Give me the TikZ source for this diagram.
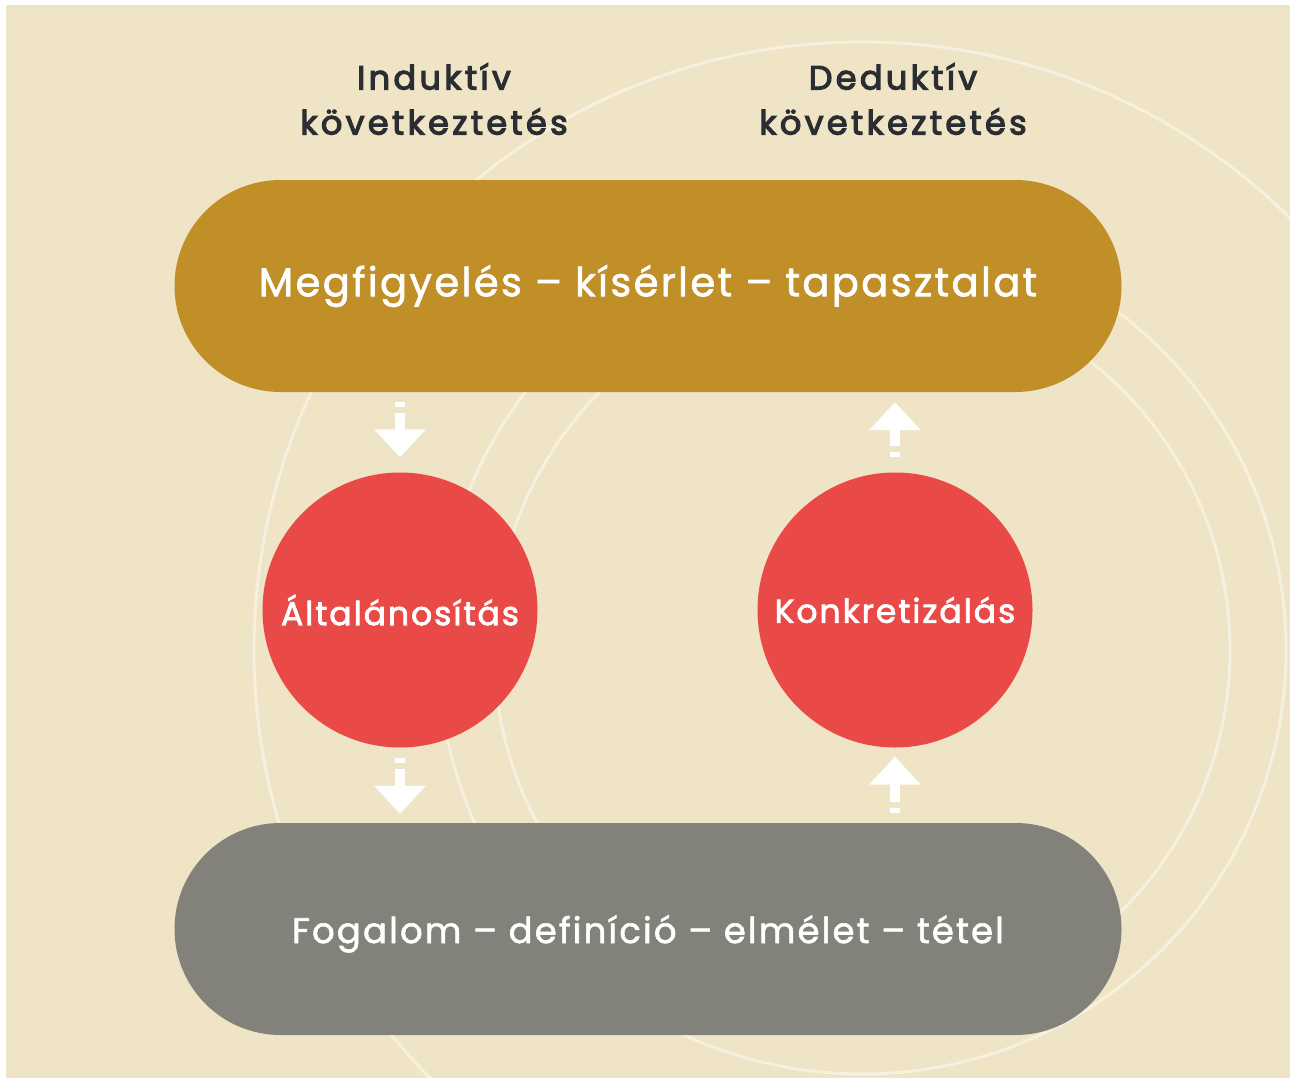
\documentclass[tikz,border=0pt]{standalone}
\usepackage{fontspec}
\setmainfont{Poppins}
\usepackage{tikz}
\usetikzlibrary{positioning,arrows.meta}

\definecolor{paper}{HTML}{EFE4C5}
\definecolor{gold}{HTML}{C18F27}
\definecolor{stone}{HTML}{83827A}
\definecolor{berry}{HTML}{E94A48}
\definecolor{ink}{HTML}{2A2E33}

\begin{document}
\begin{tikzpicture}[x=1pt,y=-1pt,
    mypill/.style = {rounded corners=106pt, minimum width=947pt, minimum height=212pt,
        text=white, font=\addfontfeatures{LetterSpace=6,FakeBold=1.6}\fontsize{40}{48}\selectfont},
    myball/.style = {circle, fill=berry, minimum size=275pt, inner sep=0pt,
        text=white, font=\addfontfeatures{LetterSpace=6,FakeBold=2.2}\fontsize{33}{38}\selectfont},
    myhead/.style = {align=center, text=ink,
        font=\addfontfeatures{LetterSpace=10,FakeBold=3.5}\fontsize{33.5}{45}\selectfont},
    myring/.style = {draw=white, draw opacity=0.45, line width=3pt},
    myarrow/.style = {white, line width=10pt, dash pattern=on 5pt off 6pt on 40pt,
        -{Triangle[width=50pt,length=28pt]}}]
\useasboundingbox (0,0) rectangle (1290,1081);
\fill[white] (0,0) rectangle (1290,1081);
\fill[paper] (6,5) rectangle (1290,1078);
\begin{scope}
\clip (6,5) rectangle (1290,1078);
\foreach \r in {368,424,608}
    \draw[myring] (862,650) circle[radius=\r pt];
\end{scope}
\node[myhead] (indhead) at (434,99) {Induktív\\következtetés};
\node[myhead] (dedhead) at (893,99) {Deduktív\\következtetés};
\node[mypill, fill=gold] (obs) at (648,286) {Megfigyelés – kísérlet – tapasztalat};
\node[mypill, fill=stone, text depth=0pt,
    font=\addfontfeatures{LetterSpace=6,FakeBold=1.6}\fontsize{35.5}{42}\selectfont]
    (theory) at (648,929) {Fogalom – definíció – elmélet – tétel};
\node[myball] (general) at (400,610) {Általánosítás};
\node[myball] (concrete) at (895,610) {Konkretizálás};
\draw[myarrow, shorten <=10pt, shorten >=15pt] (general.north |- obs.south) -- (general.north);
\draw[myarrow, shorten <=10pt, shorten >=9pt] (general.south) -- (general.south |- theory.north);
\draw[myarrow, shorten <=15pt, shorten >=10pt] (concrete.north) -- (concrete.north |- obs.south);
\draw[myarrow, shorten <=10pt, shorten >=9pt] (concrete.south |- theory.north) -- (concrete.south);
\end{tikzpicture}
\end{document}
